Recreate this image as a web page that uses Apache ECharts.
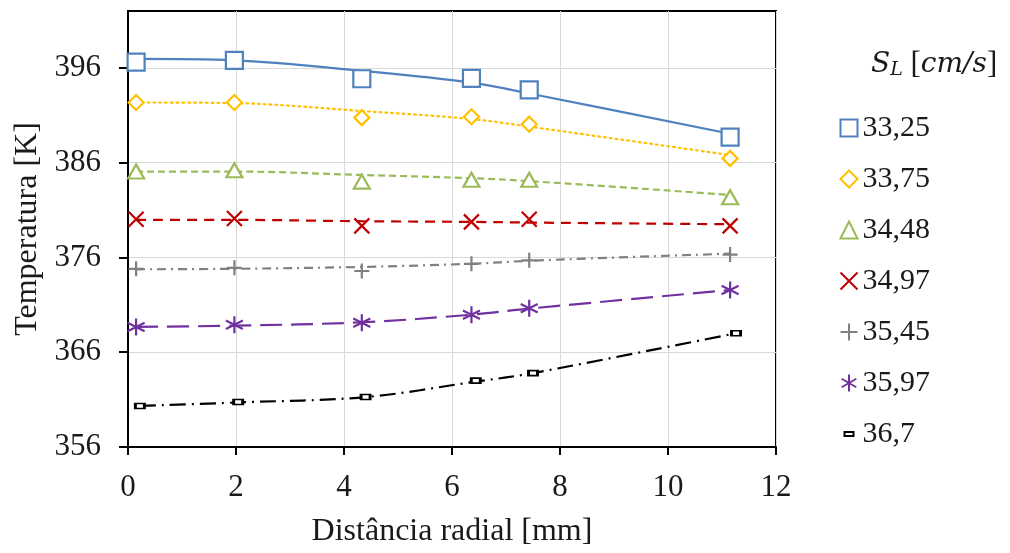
<!DOCTYPE html>
<html>
<head>
<meta charset="utf-8">
<script src="https://cdn.jsdelivr.net/npm/echarts@6/dist/echarts.min.js"></script>
<style>html,body{margin:0;padding:0;background:#fff;}#c{width:1010px;height:553px;}</style>
</head>
<body>
<div id="c"></div>
<script>
// ---- data ----
const seriesNames = ['33,25', '33,75', '34,48', '34,97', '35,45', '35,97', '36,7'];
const xRadial = [0.15, 1.97, 4.33, 6.36, 7.43, 11.15];
const xRadialBlack = [0.22, 2.04, 4.40, 6.44, 7.50, 11.26];
// measured points (markers)
const tS1 = [396.6, 396.8, 394.85, 394.9, 393.67, 388.7];
const tS2 = [392.35, 392.35, 390.75, 390.85, 390.06, 386.45];
const tS3 = [385.06, 385.2, 384.0, 384.2, 384.2, 382.35];
const tS4 = [380.02, 380.1, 379.33, 379.75, 380.02, 379.33];
const tS5 = [374.8, 374.9, 374.57, 375.33, 375.69, 376.3];
const tS6 = [368.67, 368.9, 369.1, 369.96, 370.65, 372.56];
const tS7 = [360.33, 360.75, 361.27, 363.0, 363.8, 368.0];
// trend curves at the same radial positions
const cS1 = [396.94, 396.8, 395.68, 394.44, 393.3, 389.05];
const cS2 = [392.35, 392.28, 391.45, 390.6, 389.8, 386.8];
const cS3 = [385.06, 385.06, 384.7, 384.36, 384.05, 382.6];
const cS4 = [379.96, 379.96, 379.82, 379.75, 379.68, 379.5];
const cS5 = [374.75, 374.8, 375.0, 375.33, 375.65, 376.4];
const cS6 = [368.67, 368.8, 369.16, 369.96, 370.6, 372.56];
const cS7 = [360.33, 360.7, 361.27, 362.9, 363.8, 368.0];
const yTicks = [356, 366, 376, 386, 396];
const xTicks = [0, 2, 4, 6, 8, 10, 12];

const FONT = 'Liberation Serif';
const TXT = '#1a1a1a';
const pts = (xs, ys) => xs.map((x, i) => [x, ys[i]]);

const P_X = 'path://M0,0L10,10M10,0L0,10';
const P_PLUS = 'path://M5,0L5,10M0,5L10,5';
const P_AST = 'path://M5,0L5,10M0.7,2.5L9.3,7.5M0.7,7.5L9.3,2.5';
const P_SMALLRECT = 'path://M0,0M17,17M4,6.5L13,6.5L13,10.5L4,10.5Z';

const defs = [
  {ys: tS1, cs: cS1, xs: xRadial, color: '#4F81BD', symbol: 'rect', size: 17, fill: '#fff', type: 'solid', icon: 'rect'},
  {ys: tS2, cs: cS2, xs: xRadial, color: '#FFC000', symbol: 'diamond', size: 15, fill: '#fff', type: [1.8, 4], cap: 'round', icon: 'diamond'},
  {ys: tS3, cs: cS3, xs: xRadial, color: '#9BBB59', symbol: 'triangle', size: [16, 14], fill: '#fff', type: [7, 4], icon: 'triangle'},
  {ys: tS4, cs: cS4, xs: xRadial, color: '#C00000', symbol: P_X, size: 15, fill: 'none', type: [10, 7], icon: P_X},
  {ys: tS5, cs: cS5, xs: xRadial, color: '#808080', symbol: P_PLUS, size: 15, fill: 'none', type: [9, 5, 2, 5], icon: P_PLUS},
  {ys: tS6, cs: cS6, xs: xRadial, color: '#7030A0', symbol: P_AST, size: 17, fill: 'none', type: [22, 9], icon: P_AST},
  {ys: tS7, cs: cS7, xs: xRadialBlack, color: '#000000', symbol: 'rect', size: [9, 5], fill: '#fff', type: [16, 6, 2, 6], icon: P_SMALLRECT}
];

const series = [];
defs.forEach((d, i) => {
  series.push({
    name: seriesNames[i] + ' trend',
    type: 'line',
    data: pts(d.xs, d.cs),
    smooth: 0.35,
    symbol: 'none',
    lineStyle: {color: d.color, width: 2.2, type: d.type, cap: d.cap || 'butt'},
    emphasis: {disabled: true},
    silent: true,
    z: 3
  });
});
defs.forEach((d, i) => {
  series.push({
    name: seriesNames[i],
    type: 'scatter',
    data: pts(d.xs, d.ys),
    symbol: d.symbol,
    symbolSize: d.size,
    itemStyle: {color: d.fill, borderColor: d.color, borderWidth: 2.2, opacity: 1},
    emphasis: {disabled: true},
    z: 10 - i * 0.1
  });
});

const chart = echarts.init(document.getElementById('c'), null, {renderer: 'canvas'});
chart.setOption({
  animation: false,
  backgroundColor: '#fff',
  title: {
    left: 866, top: 44,
    text: '{s|S}{sub|L}{b| [}{s|cm/s}{b|]}',
    textStyle: {
      fontWeight: 'normal',
      rich: {
        s: {fontFamily: 'DejaVu Serif', fontStyle: 'italic', fontWeight: 'normal', fontSize: 28, color: TXT},
        sub: {fontFamily: 'DejaVu Serif', fontStyle: 'italic', fontWeight: 'normal', fontSize: 19, color: TXT, verticalAlign: 'bottom', padding: [12, 0, 0, 0]},
        b: {fontFamily: FONT, fontWeight: 'normal', fontSize: 31, color: TXT}
      }
    }
  },
  legend: {
    orient: 'vertical',
    left: 838, top: 113,
    padding: 0,
    itemWidth: 17, itemHeight: 17,
    itemGap: 21,
    selectedMode: false,
    textStyle: {fontFamily: FONT, fontSize: 30, color: TXT, lineHeight: 30},
    data: seriesNames.map((n, i) => ({name: n, icon: defs[i].icon}))
  },
  grid: {
    left: 128, right: 234, top: 11, bottom: 101,
    show: true, borderColor: '#000', borderWidth: 2, backgroundColor: '#fff'
  },
  xAxis: {
    type: 'value', min: xTicks[0], max: xTicks[xTicks.length - 1], interval: 2,
    name: 'Distância radial [mm]', nameLocation: 'middle', nameGap: 69,
    nameTextStyle: {fontFamily: FONT, fontSize: 32, color: TXT},
    axisLine: {show: true, onZero: false, lineStyle: {color: '#000', width: 2}},
    axisTick: {show: true, inside: false, length: 8, lineStyle: {color: '#000', width: 2}},
    axisLabel: {fontFamily: FONT, fontSize: 31, color: TXT, margin: 25},
    splitLine: {show: true, lineStyle: {color: '#d9d9d9', width: 1}}
  },
  yAxis: {
    type: 'value', min: 356, max: 402, interval: 10,
    name: 'Temperatura [K]', nameLocation: 'middle', nameGap: 79,
    nameTextStyle: {fontFamily: FONT, fontSize: 32, color: TXT},
    axisLine: {show: true, onZero: false, lineStyle: {color: '#000', width: 2}},
    axisTick: {show: true, inside: false, length: 9, customValues: yTicks, lineStyle: {color: '#000', width: 2}},
    axisLabel: {fontFamily: FONT, fontSize: 31, color: TXT, margin: 27, customValues: yTicks},
    splitLine: {show: true, lineStyle: {color: '#d9d9d9', width: 1}}
  },
  series: series
});
</script>
</body>
</html>
